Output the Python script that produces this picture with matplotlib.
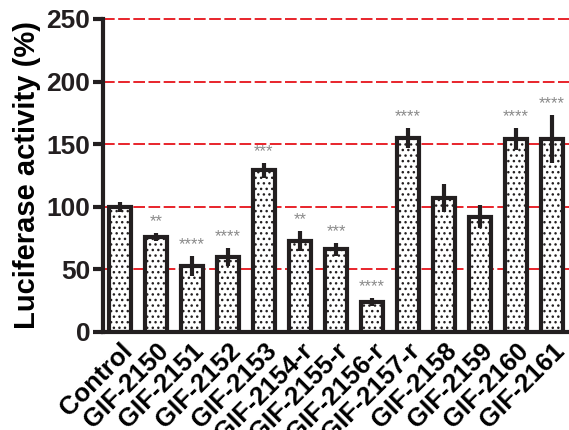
import matplotlib
matplotlib.use("Agg")
import matplotlib.pyplot as plt
import numpy as np

plt.rcParams['font.family'] = ['Liberation Sans', 'DejaVu Sans']
plt.rcParams['font.weight'] = 'bold'
plt.rcParams['hatch.linewidth'] = 1.0

# luciferase data
labels = ["Control", "GIF-2150", "GIF-2151", "GIF-2152", "GIF-2153", "GIF-2154-r",
          "GIF-2155-r", "GIF-2156-r", "GIF-2157-r", "GIF-2158", "GIF-2159",
          "GIF-2160", "GIF-2161"]
means = [100, 76, 53, 60, 129, 73, 66, 24, 155, 107, 92, 154, 154]
errs = [4, 3, 8, 7, 6, 8, 5, 3, 8, 11, 9, 9, 19]
stars = ["", "**", "****", "****", "***", "**", "***", "****", "****", "", "", "****", "****"]

fig = plt.figure(figsize=(5.69, 4.30), dpi=100)
ax = fig.add_axes([0.181, 0.228, 0.819, 0.728])

x = np.arange(len(labels))
for g in [50, 100, 150, 200, 250]:
    ax.axhline(g, color='#e8242b', lw=1.4, dashes=(6, 1.8), zorder=0, clip_on=False)

ax.bar(x, means, width=0.6, color='white', edgecolor='#231f20', linewidth=3,
       hatch='...', zorder=2)
ax.errorbar(x, means, yerr=errs, fmt='none', ecolor='#231f20', elinewidth=3,
            capsize=0, zorder=3)

for xi, m, e, s in zip(x, means, errs, stars):
    if s:
        ax.text(xi, m + e + 3, s, ha='center', va='bottom', color='#8a8a8a',
                fontsize=12, fontweight='normal')

ax.set_xlim(-0.47, 12.47)
ax.set_ylim(0, 250)
ax.set_yticks([0, 50, 100, 150, 200, 250])
ax.set_xticks(x)
ax.set_xticklabels(labels, rotation=45, ha='right', rotation_mode='anchor',
                   fontsize=18.5, fontweight='bold')
ax.tick_params(axis='y', labelsize=19, width=3, length=7, pad=2, colors='#231f20')
ax.tick_params(axis='x', length=0, pad=5)
for lab in ax.get_yticklabels():
    lab.set_fontweight('bold')
ax.set_ylabel("Luciferase activity (%)", fontsize=21, fontweight='bold', labelpad=4)

for sp in ['top', 'right']:
    ax.spines[sp].set_visible(False)
for sp in ['left', 'bottom']:
    ax.spines[sp].set_linewidth(3)
    ax.spines[sp].set_color('#231f20')

fig.savefig("out.png", dpi=100)
